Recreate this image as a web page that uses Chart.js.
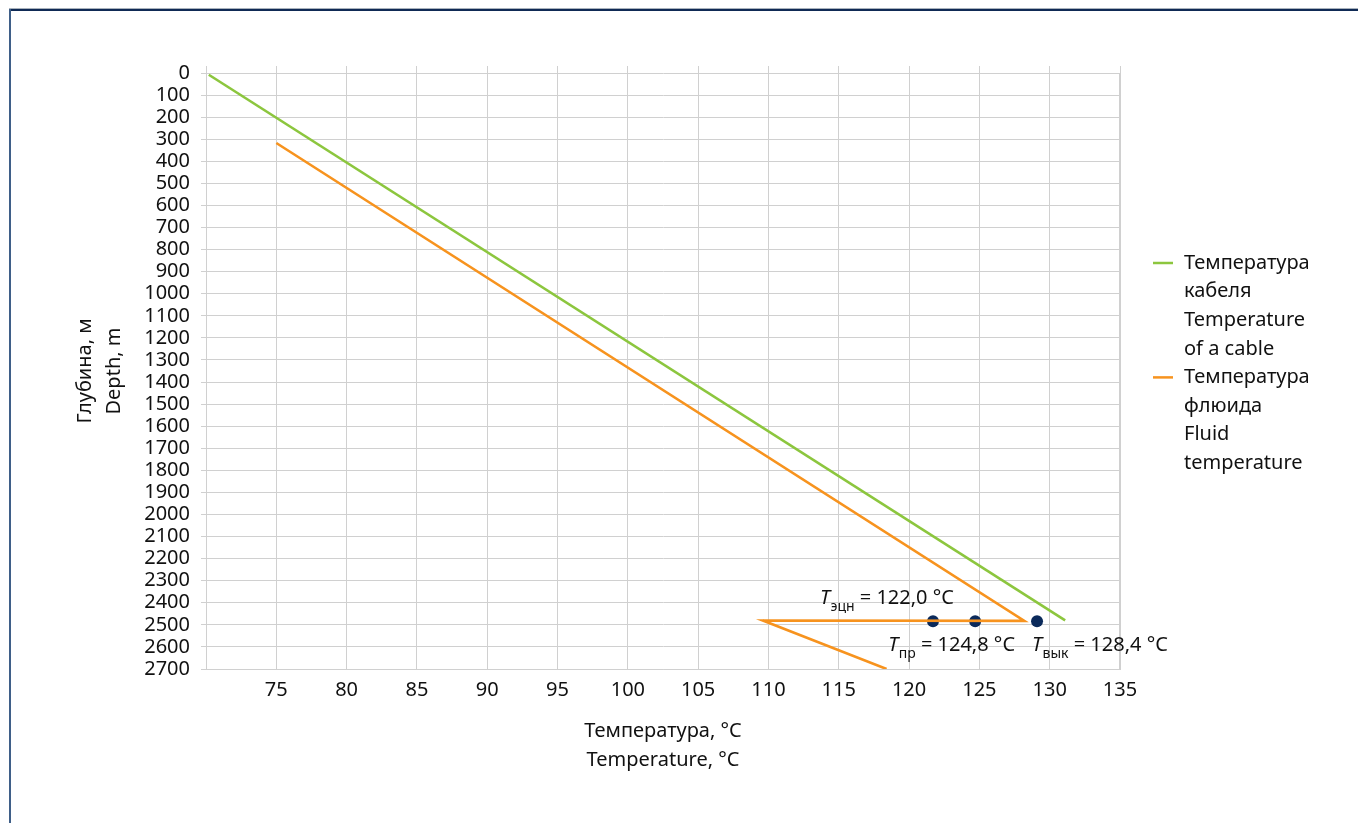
<!DOCTYPE html>
<html><head><meta charset="utf-8">
<script src="https://cdn.jsdelivr.net/npm/chart.js@4/dist/chart.umd.min.js"></script>
<style>
html,body{margin:0;padding:0;background:#fff;}
#wrap{position:absolute;left:0;top:0;width:1358px;height:823px;}
</style></head><body>
<div id="wrap"><canvas id="c" width="1358" height="823"></canvas></div>
<script>
// ---- data ----
const depthTicks = [0,100,200,300,400,500,600,700,800,900,1000,1100,1200,1300,1400,1500,1600,1700,1800,1900,2000,2100,2200,2300,2400,2500,2600,2700];
const depthTickLabels = depthTicks.map(String);
const tempTicks  = [70,75,80,85,90,95,100,105,110,115,120,125,130,135];
const tempTickLabels = ['','75','80','85','90','95','100','105','110','115','120','125','130','135'];

const cableTemp  = [70.2, 131.1];
const cableDepth = [8, 2480];

const fluidTemp  = [75, 128.2, 109.6, 118.4];
const fluidDepth = [317, 2482, 2480, 2700];

const markerTemp  = [121.7, 124.7, 129.1];
const markerDepth = [2484, 2484, 2484];
const markerSubs  = ['эцн', 'пр', 'вык'];
const markerTexts = [' = 122,0 °C', ' = 124,8 °C', ' = 128,4 °C'];

const cableLegend = ['Температура', 'кабеля', 'Temperature', 'of a cable'];
const fluidLegend = ['Температура', 'флюида', 'Fluid', 'temperature'];
const xTitle = ['Температура, °C', 'Temperature, °C'];
const yTitle = ['Глубина, м', 'Depth, m'];

// ---- style ----
const FONT = '"Noto Sans", sans-serif';
const GREEN = '#8cc63e';
const ORANGE = '#f7931e';
const NAVY = '#0b2a5b';
const GRID = '#d0d0d0';
const TEXT = '#111';

const pts = (xs, ys) => xs.map((x, i) => ({x: x, y: ys[i]}));

const framePlugin = {
  id: 'frame',
  beforeDraw(chart) {
    const c = chart.ctx;
    c.save();
    c.fillStyle = '#ffffff';
    c.fillRect(0, 0, chart.width, chart.height);
    c.fillStyle = '#a9b2bc';
    c.fillRect(9, 8, chart.width - 9, 1);
    c.fillStyle = '#0f2a55';
    c.fillRect(9, 9, chart.width - 9, 2);
    c.fillStyle = '#3f5f88';
    c.fillRect(9, 9, 2, chart.height - 9);
    c.restore();
  }
};

const annotPlugin = {
  id: 'annot',
  afterDatasetsDraw(chart) {
    const meta = chart.getDatasetMeta(2);
    const offs = [[-113, -23], [-87, 24], [-5, 24]];
    const c = chart.ctx;
    c.save();
    c.fillStyle = TEXT;
    c.textBaseline = 'middle';
    c.textAlign = 'left';
    meta.data.forEach((el, i) => {
      let x = el.x + offs[i][0];
      const y = el.y + offs[i][1];
      c.font = 'italic 20px ' + FONT;
      c.fillText('T', x, y);
      x += c.measureText('T').width + 0.5;
      c.font = '14px ' + FONT;
      c.fillText(markerSubs[i], x, y + 9);
      x += c.measureText(markerSubs[i]).width;
      c.font = '20px ' + FONT;
      c.fillText(markerTexts[i], x, y);
    });
    c.restore();
  }
};

const legendPlugin = {
  id: 'customLegend',
  afterDraw(chart) {
    const c = chart.ctx;
    const items = [[GREEN, cableLegend], [ORANGE, fluidLegend]];
    let y = 263;
    const lh = 28.6;
    c.save();
    c.font = '20px ' + FONT;
    c.textBaseline = 'middle';
    c.textAlign = 'left';
    items.forEach(([col, lines]) => {
      c.strokeStyle = col;
      c.lineWidth = 2.5;
      c.beginPath();
      c.moveTo(1153, y);
      c.lineTo(1173, y);
      c.stroke();
      c.fillStyle = TEXT;
      lines.forEach((t, k) => c.fillText(t, 1184, y + k * lh));
      y += lines.length * lh;
    });
    c.restore();
  }
};

const setTicks = (vals) => (scale) => { scale.ticks = vals.map(v => ({value: v})); };

new Chart(document.getElementById('c'), {
  type: 'scatter',
  data: {
    datasets: [
      {label: cableLegend.join(' '), data: pts(cableTemp, cableDepth), showLine: true,
       borderColor: GREEN, borderWidth: 2.6, pointRadius: 0, fill: false, tension: 0},
      {label: fluidLegend.join(' '), data: pts(fluidTemp, fluidDepth), showLine: true,
       borderColor: ORANGE, borderWidth: 2.6, pointRadius: 0, fill: false, tension: 0},
      {label: 'T', data: pts(markerTemp, markerDepth), showLine: false,
       pointRadius: 6, pointBackgroundColor: NAVY, pointBorderColor: NAVY, pointBorderWidth: 0}
    ]
  },
  options: {
    responsive: false,
    animation: false,
    devicePixelRatio: 1,
    layout: {padding: {left: 71.5, top: 66, right: 238, bottom: 48.85}},
    plugins: {legend: {display: false}, tooltip: {enabled: false}},
    scales: {
      x: {
        type: 'linear', position: 'bottom', min: 70, max: 135,
        afterBuildTicks: setTicks(tempTicks),
        afterFit: (s) => { s.height = 105.15; },
        grid: {color: GRID, lineWidth: (ctx) => (ctx.tick && ctx.tick.value === 135 ? 2 : 1), drawTicks: false},
        border: {display: true, color: GRID},
        ticks: {font: {family: FONT, size: 20}, color: TEXT, padding: 9.5, autoSkip: false, maxRotation: 0,
                callback: (v, i) => tempTickLabels[i]},
        title: {display: true, text: xTitle, color: TEXT, font: {family: FONT, size: 20, lineHeight: 1.415},
                padding: {top: 0, bottom: 0}}
      },
      xTop: {
        type: 'linear', position: 'top', min: 70, max: 135,
        afterBuildTicks: setTicks(tempTicks),
        afterFit: (s) => { s.height = 7; },
        grid: {color: GRID, drawOnChartArea: false, drawTicks: true, tickLength: 7},
        border: {display: false},
        ticks: {display: false}
      },
      y: {
        type: 'linear', position: 'left', reverse: true, min: 0, max: 2700,
        afterBuildTicks: setTicks(depthTicks),
        afterFit: (s) => { s.width = 206 - 71.5; },
        grid: {color: GRID, drawTicks: true, tickLength: 5},
        border: {display: true, color: GRID},
        ticks: {font: {family: FONT, size: 20, lineHeight: 1.1}, color: TEXT, padding: 11, autoSkip: false,
                callback: (v, i) => depthTickLabels[i]},
        title: {display: true, text: yTitle, color: TEXT, font: {family: FONT, size: 20, lineHeight: 1.415},
                padding: {top: 0, bottom: 0}}
      }
    }
  },
  plugins: [framePlugin, annotPlugin, legendPlugin]
});
</script>
</body></html>
